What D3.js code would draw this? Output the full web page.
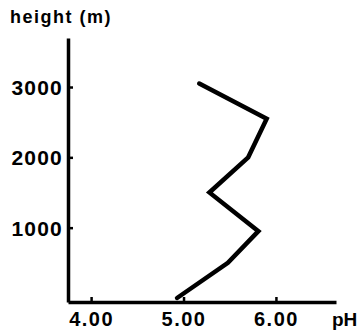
<!DOCTYPE html>
<html>
<head>
<meta charset="utf-8">
<script src="https://cdn.jsdelivr.net/npm/d3@7"></script>
<style>
  body { margin: 0; background: #fff; }
  svg { display: block; }
  text { font-family: "Liberation Sans", Arial, sans-serif; font-weight: bold; fill: #000; }
</style>
</head>
<body>
<svg id="chart" width="359" height="331"></svg>
<script>
// pH profile with height
var heights = [0, 500, 950, 1500, 2000, 2550, 3050];
var phValues = [4.93, 5.48, 5.81, 5.28, 5.70, 5.90, 5.17];
var xTicks = [4, 5, 6];
var yTicks = [1000, 2000, 3000];

var svg = d3.select("#chart");

var x = d3.scaleLinear()
    .domain([3.75, 6.65])
    .range([68, 336]);
var y = d3.scaleLinear()
    .domain([-57, 3697])
    .range([302, 38]);

// axes
var xAxis = svg.append("g")
    .attr("transform", "translate(0,302)")
    .call(d3.axisBottom(x).tickValues(xTicks).tickFormat(d3.format(".2f"))
        .tickSizeInner(-5).tickSizeOuter(0).tickPadding(10));
xAxis.select(".domain").attr("stroke-width", 3.5);
xAxis.selectAll(".tick line").attr("stroke-width", 2.5);
xAxis.selectAll(".tick text")
    .style("font-size", "20px")
    .attr("letter-spacing", 1.5)
    .attr("dy", "0.71em");

var yAxis = svg.append("g")
    .attr("transform", "translate(68,0)")
    .call(d3.axisLeft(y).tickValues(yTicks).tickFormat(d3.format("d"))
        .tickSizeInner(-5).tickSizeOuter(0).tickPadding(5));
yAxis.select(".domain").attr("stroke-width", 3.5);
yAxis.selectAll(".tick line").attr("stroke-width", 2.5);
yAxis.selectAll(".tick text")
    .style("font-size", "21px")
    .attr("letter-spacing", 1.2)
    .attr("dy", "0.36em");

// axis titles
svg.append("text")
    .attr("x", 10)
    .attr("y", 23)
    .style("font-size", "18px")
    .attr("letter-spacing", 1.5)
    .text("height (m)");
svg.append("text")
    .attr("x", 332)
    .attr("y", 326)
    .style("font-size", "19px")
    .text("pH");

// profile line
var line = d3.line()
    .x(function(d, i) { return x(phValues[i]); })
    .y(function(d) { return y(d); });

svg.append("path")
    .datum(heights)
    .attr("d", line)
    .attr("fill", "none")
    .attr("stroke", "#000")
    .attr("stroke-width", 4.5)
    .attr("stroke-linejoin", "miter")
    .attr("stroke-linecap", "round");
</script>
</body>
</html>
